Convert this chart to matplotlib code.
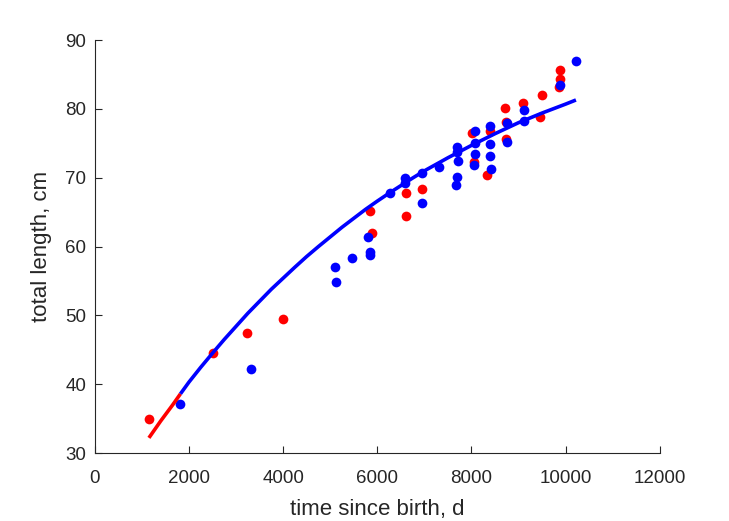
import matplotlib
matplotlib.use('Agg')
import matplotlib.pyplot as plt

plt.rcParams['font.family'] = ['Liberation Sans', 'DejaVu Sans']

redT = [1150, 2510, 3240, 4000, 5840, 5880, 6620, 6620, 6960, 8015, 8050,
        8330, 8390, 8720, 8730, 8730, 9085, 9467, 9500, 9877, 9877, 9870]
redL = [34.9, 44.6, 47.4, 49.5, 65.2, 61.9, 67.8, 64.4, 68.4, 76.5, 72.3,
        70.4, 76.8, 80.2, 78.1, 75.6, 80.9, 78.8, 82.0, 85.6, 84.4, 83.2]

blueT = [1820, 3320, 5120, 5112, 5473, 5850, 5850, 5813, 6266, 6591, 6591,
         6960, 6960, 7313, 7700, 7700, 7710, 7700, 7680, 8071, 8080, 8080,
         8050, 8390, 8390, 8390, 8420, 8760, 8760, 9113, 9113, 9877, 10224]
blueL = [37.1, 42.2, 54.9, 57.1, 58.3, 58.8, 59.2, 61.4, 67.8, 69.2, 69.9,
         66.3, 70.7, 71.6, 74.4, 73.8, 72.4, 70.1, 69.0, 76.8, 75.1, 73.4,
         71.8, 77.5, 74.9, 73.2, 71.2, 77.9, 75.2, 79.8, 78.2, 83.5, 87.0]

# fitted curves, values
redCurveT = [1150, 1400, 1650, 1820]
redCurveL = [32.2, 34.65, 36.95, 38.6]
blueCurveT = [1820, 2000, 2250, 2500, 2750, 3000, 3250, 3500, 3750, 4000,
              4250, 4500, 4750, 5000, 5250, 5500, 5750, 6000, 6250, 6500,
              6750, 7000, 7250, 7500, 7750, 8000, 8250, 8500, 8750, 9000,
              9250, 9500, 9750, 10000, 10220]
blueCurveL = [38.6, 40.3, 42.45, 44.5, 46.5, 48.4, 50.3, 52.05, 53.8, 55.4,
              57.0, 58.55, 60.0, 61.4, 62.8, 64.1, 65.4, 66.6, 67.75, 68.85,
              69.95, 71.0, 71.95, 72.9, 73.8, 74.7, 75.55, 76.4, 77.2, 78.0,
              78.7, 79.4, 80.05, 80.7, 81.3]

fig = plt.figure(figsize=(7.29, 5.21), dpi=100)
ax = fig.add_axes([0.13, 0.1305, 0.775, 0.7925])

ax.plot(redT, redL, 'o', color='red', ms=7, mew=0, zorder=2)
ax.plot(blueT, blueL, 'o', color='blue', ms=7, mew=0, zorder=3)
ax.plot(redCurveT, redCurveL, '-', color='red', lw=2.6, zorder=4, solid_capstyle='butt')
ax.plot(blueCurveT, blueCurveL, '-', color='blue', lw=2.6, zorder=4, solid_capstyle='butt')

ax.set_xlim(0, 12000)
ax.set_ylim(30, 90)
ax.set_xticks(range(0, 12001, 2000))
ax.set_yticks(range(30, 91, 10))

dark = (0.15, 0.15, 0.15)
for s in ['top', 'right']:
    ax.spines[s].set_visible(False)
for s in ['left', 'bottom']:
    ax.spines[s].set_color(dark)
    ax.spines[s].set_linewidth(0.8)
ax.tick_params(direction='in', length=5, width=0.8, colors=dark, labelsize=13.5)
ax.tick_params(axis='x', pad=12)
ax.tick_params(axis='y', pad=6)

ax.set_xlabel('time since birth, d', fontsize=16, color=dark, labelpad=9)
ax.set_ylabel('total length, cm', fontsize=16, color=dark, labelpad=10)

fig.savefig('out.png', dpi=100)
